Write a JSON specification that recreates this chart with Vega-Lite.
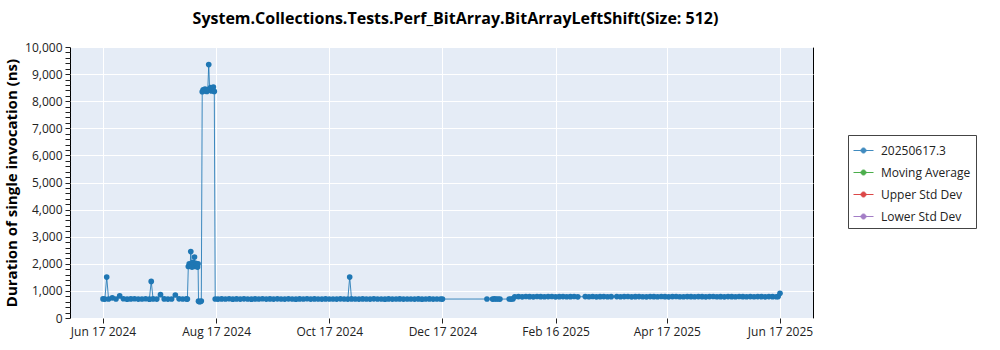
{
  "$schema": "https://vega.github.io/schema/vega-lite/v6.json",
  "width": 743,
  "height": 271,
  "autosize": {"type": "none"},
  "padding": {"left": 70, "top": 47, "right": 187, "bottom": 32},
  "background": "white",
  "title": {"text": "System.Collections.Tests.Perf_BitArray.BitArrayLeftShift(Size: 512)", "fontSize": 16, "fontWeight": "bold", "font": "Open Sans", "anchor": "middle", "dx": 14, "offset": 14, "color": "black"},
  "config": {
    "view": {"fill": "#e5ecf6", "stroke": "black", "strokeWidth": 1},
    "axis": {"labelFont": "Open Sans", "labelFontSize": 12, "labelColor": "#222", "tickColor": "#222", "domain": false, "gridColor": "white", "gridWidth": 1, "titleFont": "Open Sans", "titleColor": "black"}
  },
  "data": {"values": [
    {"t": "2024-06-17T00:00", "v": 705}, {"t": "2024-06-18T00:00", "v": 698}, {"t": "2024-06-19T00:00", "v": 1510}, {"t": "2024-06-20T00:00", "v": 702},
    {"t": "2024-06-22T00:00", "v": 745}, {"t": "2024-06-24T00:00", "v": 700}, {"t": "2024-06-26T00:00", "v": 815}, {"t": "2024-06-28T00:00", "v": 710},
    {"t": "2024-06-30T00:00", "v": 695}, {"t": "2024-07-02T00:00", "v": 704}, {"t": "2024-07-04T00:00", "v": 712}, {"t": "2024-07-06T00:00", "v": 698},
    {"t": "2024-07-08T00:00", "v": 701}, {"t": "2024-07-10T00:00", "v": 709}, {"t": "2024-07-12T00:00", "v": 696}, {"t": "2024-07-13T00:00", "v": 1350},
    {"t": "2024-07-14T00:00", "v": 703}, {"t": "2024-07-16T00:00", "v": 699}, {"t": "2024-07-18T00:00", "v": 860}, {"t": "2024-07-20T00:00", "v": 705},
    {"t": "2024-07-22T00:00", "v": 697}, {"t": "2024-07-24T00:00", "v": 702}, {"t": "2024-07-26T00:00", "v": 850}, {"t": "2024-07-28T00:00", "v": 708},
    {"t": "2024-07-30T00:00", "v": 700}, {"t": "2024-08-01T00:00", "v": 703}, {"t": "2024-08-01T12:00", "v": 698},
    {"t": "2024-08-02T00:00", "v": 1900}, {"t": "2024-08-02T12:00", "v": 2000}, {"t": "2024-08-03T00:00", "v": 1950}, {"t": "2024-08-03T08:00", "v": 2450},
    {"t": "2024-08-03T16:00", "v": 1950}, {"t": "2024-08-04T00:00", "v": 1880}, {"t": "2024-08-04T12:00", "v": 2050}, {"t": "2024-08-05T00:00", "v": 1960},
    {"t": "2024-08-05T08:00", "v": 2250}, {"t": "2024-08-05T16:00", "v": 1900}, {"t": "2024-08-06T00:00", "v": 2020}, {"t": "2024-08-06T12:00", "v": 1950},
    {"t": "2024-08-07T00:00", "v": 1880}, {"t": "2024-08-07T06:00", "v": 2000},
    {"t": "2024-08-07T12:00", "v": 620}, {"t": "2024-08-08T00:00", "v": 600}, {"t": "2024-08-08T12:00", "v": 610}, {"t": "2024-08-09T00:00", "v": 625},
    {"t": "2024-08-09T12:00", "v": 8350}, {"t": "2024-08-10T00:00", "v": 8420}, {"t": "2024-08-10T12:00", "v": 8380}, {"t": "2024-08-11T00:00", "v": 8450},
    {"t": "2024-08-11T12:00", "v": 8400}, {"t": "2024-08-12T00:00", "v": 8360}, {"t": "2024-08-12T12:00", "v": 8430}, {"t": "2024-08-13T00:00", "v": 9350},
    {"t": "2024-08-13T12:00", "v": 8420}, {"t": "2024-08-14T00:00", "v": 8500}, {"t": "2024-08-14T12:00", "v": 8380}, {"t": "2024-08-15T00:00", "v": 8450},
    {"t": "2024-08-15T12:00", "v": 8520}, {"t": "2024-08-16T00:00", "v": 8360},
    {"t": "2024-08-16T12:00", "v": 702}, {"t": "2024-08-18T00:00", "v": 698}, {"t": "2024-08-20T00:00", "v": 705}, {"t": "2024-08-22T00:00", "v": 700},
    {"t": "2024-08-24T00:00", "v": 711}, {"t": "2024-08-26T00:00", "v": 696}, {"t": "2024-08-28T00:00", "v": 703}, {"t": "2024-08-30T00:00", "v": 699},
    {"t": "2024-09-01T00:00", "v": 707}, {"t": "2024-09-03T00:00", "v": 701}, {"t": "2024-09-05T00:00", "v": 695}, {"t": "2024-09-07T00:00", "v": 704},
    {"t": "2024-09-09T00:00", "v": 700}, {"t": "2024-09-11T00:00", "v": 712}, {"t": "2024-09-13T00:00", "v": 698}, {"t": "2024-09-15T00:00", "v": 703},
    {"t": "2024-09-17T00:00", "v": 697}, {"t": "2024-09-19T00:00", "v": 706}, {"t": "2024-09-21T00:00", "v": 701}, {"t": "2024-09-23T00:00", "v": 699},
    {"t": "2024-09-25T00:00", "v": 708}, {"t": "2024-09-27T00:00", "v": 702}, {"t": "2024-09-29T00:00", "v": 696}, {"t": "2024-10-01T00:00", "v": 704},
    {"t": "2024-10-03T00:00", "v": 700}, {"t": "2024-10-05T00:00", "v": 709}, {"t": "2024-10-07T00:00", "v": 698}, {"t": "2024-10-09T00:00", "v": 703},
    {"t": "2024-10-11T00:00", "v": 701}, {"t": "2024-10-13T00:00", "v": 697}, {"t": "2024-10-15T00:00", "v": 705}, {"t": "2024-10-17T00:00", "v": 700},
    {"t": "2024-10-19T00:00", "v": 702}, {"t": "2024-10-21T00:00", "v": 698}, {"t": "2024-10-23T00:00", "v": 706}, {"t": "2024-10-25T00:00", "v": 701},
    {"t": "2024-10-27T00:00", "v": 699}, {"t": "2024-10-28T00:00", "v": 1510}, {"t": "2024-10-29T00:00", "v": 703}, {"t": "2024-10-31T00:00", "v": 700},
    {"t": "2024-11-02T00:00", "v": 697}, {"t": "2024-11-04T00:00", "v": 704}, {"t": "2024-11-06T00:00", "v": 701}, {"t": "2024-11-08T00:00", "v": 699},
    {"t": "2024-11-10T00:00", "v": 706}, {"t": "2024-11-12T00:00", "v": 700}, {"t": "2024-11-14T00:00", "v": 702}, {"t": "2024-11-16T00:00", "v": 695},
    {"t": "2024-11-18T00:00", "v": 703}, {"t": "2024-11-20T00:00", "v": 698}, {"t": "2024-11-22T00:00", "v": 701}, {"t": "2024-11-24T00:00", "v": 704},
    {"t": "2024-11-26T00:00", "v": 697}, {"t": "2024-11-28T00:00", "v": 700}, {"t": "2024-11-30T00:00", "v": 702}, {"t": "2024-12-02T00:00", "v": 699},
    {"t": "2024-12-04T00:00", "v": 705}, {"t": "2024-12-06T00:00", "v": 696}, {"t": "2024-12-08T00:00", "v": 701}, {"t": "2024-12-10T00:00", "v": 703},
    {"t": "2024-12-12T00:00", "v": 698}, {"t": "2024-12-14T00:00", "v": 700}, {"t": "2024-12-16T00:00", "v": 702}, {"t": "2024-12-17T00:00", "v": 699},
    {"t": "2025-01-10T00:00", "v": 700}, {"t": "2025-01-13T00:00", "v": 698}, {"t": "2025-01-14T00:00", "v": 704}, {"t": "2025-01-15T00:00", "v": 700},
    {"t": "2025-01-16T00:00", "v": 702}, {"t": "2025-01-17T00:00", "v": 697}, {"t": "2025-01-22T00:00", "v": 701}, {"t": "2025-01-23T00:00", "v": 699},
    {"t": "2025-01-24T00:00", "v": 703}, {"t": "2025-01-25T00:00", "v": 785}, {"t": "2025-01-27T00:00", "v": 790}, {"t": "2025-01-29T00:00", "v": 782},
    {"t": "2025-01-31T00:00", "v": 795}, {"t": "2025-02-02T00:00", "v": 788}, {"t": "2025-02-04T00:00", "v": 780}, {"t": "2025-02-06T00:00", "v": 792},
    {"t": "2025-02-08T00:00", "v": 786}, {"t": "2025-02-10T00:00", "v": 783}, {"t": "2025-02-12T00:00", "v": 790}, {"t": "2025-02-14T00:00", "v": 795},
    {"t": "2025-02-16T00:00", "v": 781}, {"t": "2025-02-18T00:00", "v": 788}, {"t": "2025-02-20T00:00", "v": 791}, {"t": "2025-02-22T00:00", "v": 784},
    {"t": "2025-02-24T00:00", "v": 787}, {"t": "2025-02-26T00:00", "v": 793}, {"t": "2025-02-28T00:00", "v": 780}, {"t": "2025-03-04T00:00", "v": 789},
    {"t": "2025-03-06T00:00", "v": 785}, {"t": "2025-03-08T00:00", "v": 792}, {"t": "2025-03-10T00:00", "v": 781}, {"t": "2025-03-12T00:00", "v": 788},
    {"t": "2025-03-14T00:00", "v": 790}, {"t": "2025-03-16T00:00", "v": 784}, {"t": "2025-03-18T00:00", "v": 786}, {"t": "2025-03-21T00:00", "v": 791},
    {"t": "2025-03-23T00:00", "v": 783}, {"t": "2025-03-25T00:00", "v": 789}, {"t": "2025-03-27T00:00", "v": 794}, {"t": "2025-03-29T00:00", "v": 780},
    {"t": "2025-03-31T00:00", "v": 787}, {"t": "2025-04-02T00:00", "v": 791}, {"t": "2025-04-04T00:00", "v": 785}, {"t": "2025-04-06T00:00", "v": 782},
    {"t": "2025-04-08T00:00", "v": 790}, {"t": "2025-04-10T00:00", "v": 788}, {"t": "2025-04-12T00:00", "v": 784}, {"t": "2025-04-14T00:00", "v": 793},
    {"t": "2025-04-16T00:00", "v": 786}, {"t": "2025-04-18T00:00", "v": 781}, {"t": "2025-04-20T00:00", "v": 789}, {"t": "2025-04-22T00:00", "v": 792},
    {"t": "2025-04-24T00:00", "v": 785}, {"t": "2025-04-26T00:00", "v": 783}, {"t": "2025-04-28T00:00", "v": 790}, {"t": "2025-04-30T00:00", "v": 787},
    {"t": "2025-05-02T00:00", "v": 784}, {"t": "2025-05-04T00:00", "v": 791}, {"t": "2025-05-06T00:00", "v": 786}, {"t": "2025-05-08T00:00", "v": 782},
    {"t": "2025-05-10T00:00", "v": 789}, {"t": "2025-05-12T00:00", "v": 793}, {"t": "2025-05-14T00:00", "v": 785}, {"t": "2025-05-16T00:00", "v": 788},
    {"t": "2025-05-18T00:00", "v": 781}, {"t": "2025-05-20T00:00", "v": 790}, {"t": "2025-05-22T00:00", "v": 786}, {"t": "2025-05-24T00:00", "v": 784},
    {"t": "2025-05-26T00:00", "v": 792}, {"t": "2025-05-28T00:00", "v": 787}, {"t": "2025-05-30T00:00", "v": 783}, {"t": "2025-06-01T00:00", "v": 789},
    {"t": "2025-06-03T00:00", "v": 785}, {"t": "2025-06-05T00:00", "v": 791}, {"t": "2025-06-07T00:00", "v": 788}, {"t": "2025-06-09T00:00", "v": 782},
    {"t": "2025-06-11T00:00", "v": 790}, {"t": "2025-06-13T00:00", "v": 786}, {"t": "2025-06-15T00:00", "v": 784}, {"t": "2025-06-16T00:00", "v": 789},
    {"t": "2025-06-17T00:00", "v": 910}
  ]},
  "encoding": {
    "x": {"field": "t", "type": "temporal", "title": null,
      "scale": {"domain": [{"year": 2024, "month": 5, "date": 30, "hours": 5}, {"year": 2025, "month": 7, "date": 4, "hours": 19}]},
      "axis": {"format": "%b %d %Y", "tickSize": 5, "labelPadding": 3, "grid": true,
        "values": [{"year": 2024, "month": 6, "date": 17}, {"year": 2024, "month": 8, "date": 17}, {"year": 2024, "month": 10, "date": 17}, {"year": 2024, "month": 12, "date": 17}, {"year": 2025, "month": 2, "date": 16}, {"year": 2025, "month": 4, "date": 17}, {"year": 2025, "month": 6, "date": 17}]}},
    "y": {"field": "v", "type": "quantitative", "scale": {"domain": [0, 10000], "nice": false},
      "axis": {"values": [0, 200, 400, 600, 800, 1000, 1200, 1400, 1600, 1800, 2000, 2200, 2400, 2600, 2800, 3000, 3200, 3400, 3600, 3800, 4000, 4200, 4400, 4600, 4800, 5000, 5200, 5400, 5600, 5800, 6000, 6200, 6400, 6600, 6800, 7000, 7200, 7400, 7600, 7800, 8000, 8200, 8400, 8600, 8800, 9000, 9200, 9400, 9600, 9800, 10000],
        "labelExpr": "datum.value % 1000 === 0 ? format(datum.value, ',d') : ''",
        "tickSize": 5, "labelPadding": 3, "grid": true,
        "gridOpacity": {"condition": {"test": "datum.value % 1000 === 0", "value": 1}, "value": 0},
        "encode": {"ticks": {"update": {"x2": {"signal": "datum.value % 1000 === 0 ? -5 : -3"}}}},
        "title": "Duration of single invocation (ns)", "titleFontSize": 15, "titleFontWeight": "bold", "titleX": -51}},
    "color": {"datum": "20250617.3", "type": "nominal",
      "scale": {"domain": ["20250617.3", "Moving Average", "Upper Std Dev", "Lower Std Dev"], "range": ["#1f77b4", "#2ca02c", "#d62728", "#9467bd"]},
      "legend": {"orient": "none", "legendX": 778, "legendY": 88, "title": null, "strokeColor": "#444", "fillColor": "white", "padding": 5, "rowPadding": 5,
        "labelFont": "Open Sans", "labelFontSize": 12, "labelColor": "#222", "labelOffset": 7,
        "symbolType": "M-1,0L1,0M-0.25,0A0.25,0.25,0,1,1,0.25,0A0.25,0.25,0,1,1,-0.25,0Z", "symbolSize": 400, "symbolStrokeWidth": 1}}
  },
  "layer": [
    {"mark": {"type": "line", "strokeWidth": 1, "opacity": 0.85}},
    {"mark": {"type": "point", "filled": true, "size": 32, "opacity": 1}}
  ]
}
